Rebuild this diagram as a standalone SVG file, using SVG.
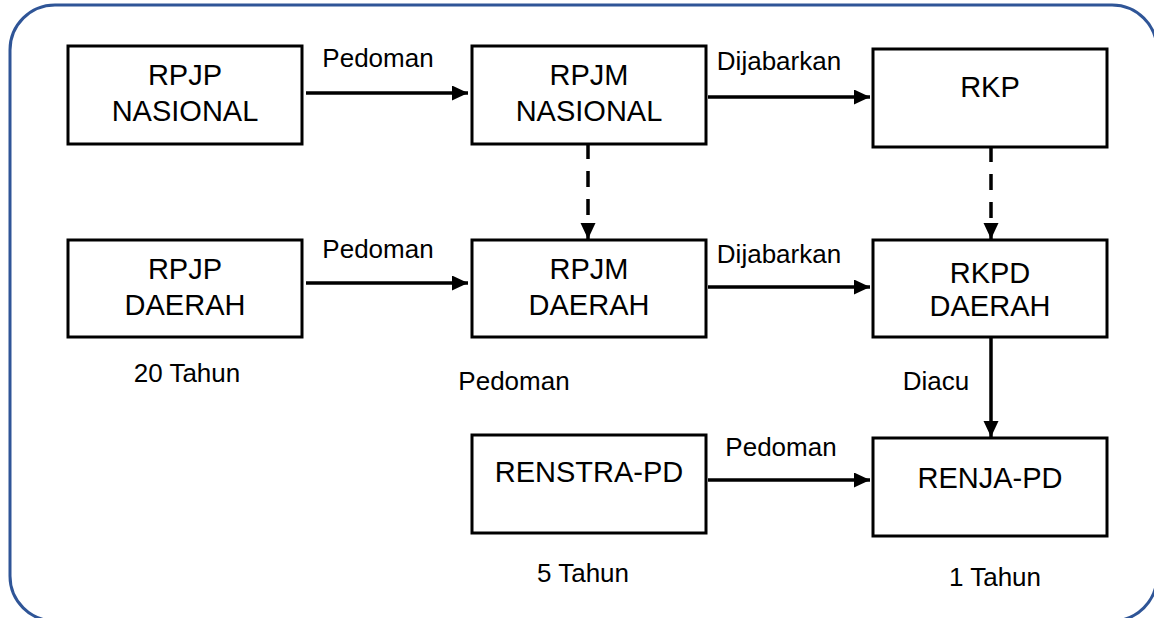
<svg xmlns="http://www.w3.org/2000/svg" width="1154" height="618" viewBox="0 0 1154 618">
<style>
.box{fill:#fff;stroke:#000;stroke-width:3}
.bt{font-family:"Liberation Sans",Arial,sans-serif;font-size:29px;fill:#000;text-anchor:middle}
.lb{font-family:"Liberation Sans",Arial,sans-serif;font-size:26px;fill:#000;text-anchor:middle}
.ln{stroke:#000;stroke-width:3.5;fill:none}
.dash{stroke-dasharray:16 12}
</style>
<defs>
<marker id="ah" markerUnits="userSpaceOnUse" markerWidth="17" markerHeight="16" refX="16" refY="7.5" orient="auto">
<path d="M0,0 L16,7.5 L0,15 z" fill="#000"/>
</marker>
</defs>
<rect x="10" y="5" width="1147" height="616" rx="45" ry="45" fill="#fff" stroke="#2F5597" stroke-width="3"/>
<g id="connectors">
<line class="ln" x1="306" y1="93" x2="468" y2="93" marker-end="url(#ah)"/>
<line class="ln" x1="708" y1="97" x2="870" y2="97" marker-end="url(#ah)"/>
<line class="ln" x1="306" y1="283" x2="468" y2="283" marker-end="url(#ah)"/>
<line class="ln" x1="708" y1="287" x2="870" y2="287" marker-end="url(#ah)"/>
<line class="ln" x1="708" y1="480" x2="870" y2="480" marker-end="url(#ah)"/>
<line class="ln dash" x1="588" y1="145" x2="588" y2="239" stroke-dashoffset="2" marker-end="url(#ah)"/>
<line class="ln dash" x1="991" y1="148" x2="991" y2="239" stroke-dashoffset="2" marker-end="url(#ah)"/>
<line class="ln" x1="991" y1="338" x2="991" y2="437" marker-end="url(#ah)"/>
<text class="lb" x="378" y="67">Pedoman</text>
<text class="lb" x="779" y="70">Dijabarkan</text>
<text class="lb" x="378" y="258">Pedoman</text>
<text class="lb" x="779" y="263">Dijabarkan</text>
<text class="lb" x="936" y="390">Diacu</text>
<text class="lb" x="781" y="456">Pedoman</text>
</g>
<g id="rpjp-nasional">
<rect class="box" x="68" y="46" width="234" height="98"/>
<text class="bt" x="185" y="85">RPJP</text>
<text class="bt" x="185" y="121">NASIONAL</text>
</g>
<g id="rpjm-nasional">
<rect class="box" x="472" y="46" width="234" height="98"/>
<text class="bt" x="589" y="85">RPJM</text>
<text class="bt" x="589" y="121">NASIONAL</text>
</g>
<g id="rkp">
<rect class="box" x="873" y="49" width="234" height="98"/>
<text class="bt" x="990" y="97">RKP</text>
</g>
<g id="rpjp-daerah">
<rect class="box" x="68" y="240" width="234" height="97"/>
<text class="bt" x="185" y="279">RPJP</text>
<text class="bt" x="185" y="315">DAERAH</text>
<text class="lb" x="187" y="382">20 Tahun</text>
</g>
<g id="rpjm-daerah">
<rect class="box" x="472" y="240" width="234" height="97"/>
<text class="bt" x="589" y="279">RPJM</text>
<text class="bt" x="589" y="315">DAERAH</text>
<text class="lb" x="514" y="390">Pedoman</text>
</g>
<g id="rkpd-daerah">
<rect class="box" x="873" y="240" width="234" height="97"/>
<text class="bt" x="990" y="283">RKPD</text>
<text class="bt" x="990" y="316">DAERAH</text>
</g>
<g id="renstra-pd">
<rect class="box" x="472" y="435" width="234" height="98"/>
<text class="bt" x="589" y="482">RENSTRA-PD</text>
<text class="lb" x="583" y="582">5 Tahun</text>
</g>
<g id="renja-pd">
<rect class="box" x="873" y="438" width="234" height="98"/>
<text class="bt" x="990" y="488">RENJA-PD</text>
<text class="lb" x="995" y="586">1 Tahun</text>
</g>
</svg>
